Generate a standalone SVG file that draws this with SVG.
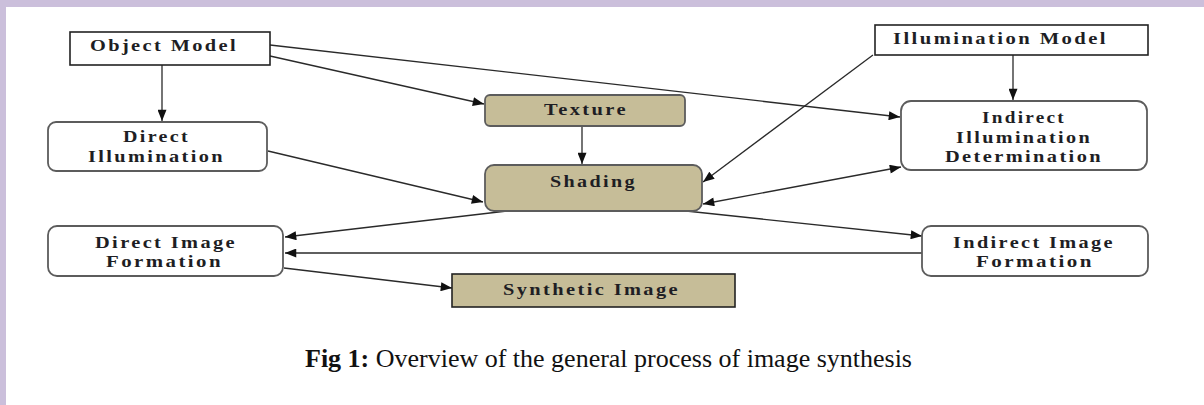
<svg xmlns="http://www.w3.org/2000/svg" width="1204" height="405" viewBox="0 0 1204 405">
  <style>
    .lbl { font-family: "Liberation Serif", "Times New Roman", serif; font-weight: bold; font-size: 17px; letter-spacing: 2px; fill: #1e1e24; text-anchor: start; }
    .cap { font-family: "Liberation Serif", "Times New Roman", serif; font-size: 26px; fill: #111; }
    .plain { fill: #ffffff; stroke: #222; stroke-width: 1.6; }
    .plain-tan { fill: #c6bd98; stroke: #222; stroke-width: 1.6; }
    .round { fill: #ffffff; stroke: #5c5c5c; stroke-width: 1.8; }
    .round-tan { fill: #c6bd98; stroke: #5c5c5c; stroke-width: 1.8; }
    .edge { fill: none; stroke: #2a2a2a; stroke-width: 1.3; }
  </style>
  <defs>
    <marker id="arrow" viewBox="0 0 10 8" refX="10" refY="4" markerWidth="12" markerHeight="9" markerUnits="userSpaceOnUse" orient="auto-start-reverse">
      <path d="M0,0 L10,4 L0,8 z" fill="#111"/>
    </marker>
  </defs>

  <!-- page background with lavender frame -->
  <rect x="0" y="0" width="1204" height="405" fill="#ffffff"/>
  <rect x="0" y="0" width="1204" height="7" fill="#cbbfdb"/>
  <rect x="0" y="0" width="6" height="405" fill="#cbbfdb"/>

  <!-- connectors -->
  <g id="connectors">
    <line class="edge" x1="270" y1="45" x2="900" y2="117" marker-end="url(#arrow)"/>
    <line class="edge" x1="270" y1="56" x2="484" y2="104" marker-end="url(#arrow)"/>
    <line class="edge" x1="162" y1="65" x2="162" y2="121" marker-end="url(#arrow)"/>
    <line class="edge" x1="1013" y1="55" x2="1013" y2="100" marker-end="url(#arrow)"/>
    <line class="edge" x1="873" y1="55" x2="703" y2="182" marker-end="url(#arrow)"/>
    <line class="edge" x1="582" y1="126" x2="582" y2="164" marker-end="url(#arrow)"/>
    <line class="edge" x1="268" y1="151" x2="483" y2="202" marker-end="url(#arrow)"/>
    <line class="edge" x1="703" y1="204" x2="901" y2="167" marker-start="url(#arrow)" marker-end="url(#arrow)"/>
    <line class="edge" x1="507" y1="211" x2="285" y2="237" marker-end="url(#arrow)"/>
    <line class="edge" x1="686" y1="211" x2="922" y2="236" marker-end="url(#arrow)"/>
    <line class="edge" x1="922" y1="253" x2="285" y2="253" marker-end="url(#arrow)"/>
    <line class="edge" x1="284" y1="268" x2="452" y2="288" marker-end="url(#arrow)"/>
  </g>

  <g id="object-model">
    <rect class="plain" x="70" y="32" width="200" height="33"/>
    <text class="lbl" x="90" y="51" textLength="148" lengthAdjust="spacingAndGlyphs">Object Model</text>
  </g>

  <g id="illumination-model">
    <rect class="plain" x="875" y="25" width="273" height="30"/>
    <text class="lbl" x="893" y="44" textLength="215" lengthAdjust="spacingAndGlyphs">Illumination Model</text>
  </g>

  <g id="texture">
    <rect class="round-tan" x="485" y="95" width="200" height="31" rx="5"/>
    <text class="lbl" x="544" y="115" textLength="84" lengthAdjust="spacingAndGlyphs">Texture</text>
  </g>

  <g id="direct-illumination">
    <rect class="round" x="48" y="122" width="219" height="49" rx="8"/>
    <text class="lbl" x="123" y="142" textLength="67" lengthAdjust="spacingAndGlyphs">Direct</text>
    <text class="lbl" x="88" y="162" textLength="137" lengthAdjust="spacingAndGlyphs">Illumination</text>
  </g>

  <g id="indirect-illumination-determination">
    <rect class="round" x="901" y="101" width="246" height="69" rx="10"/>
    <text class="lbl" x="982" y="123" textLength="84" lengthAdjust="spacingAndGlyphs">Indirect</text>
    <text class="lbl" x="956" y="143" textLength="136" lengthAdjust="spacingAndGlyphs">Illumination</text>
    <text class="lbl" x="945" y="162" textLength="158" lengthAdjust="spacingAndGlyphs">Determination</text>
  </g>

  <g id="shading">
    <rect class="round-tan" x="485" y="165" width="217" height="46" rx="9"/>
    <text class="lbl" x="550" y="187" textLength="87" lengthAdjust="spacingAndGlyphs">Shading</text>
  </g>

  <g id="direct-image-formation">
    <rect class="round" x="48" y="226" width="235" height="50" rx="9"/>
    <text class="lbl" x="95" y="248" textLength="142" lengthAdjust="spacingAndGlyphs">Direct Image</text>
    <text class="lbl" x="106" y="267" textLength="117" lengthAdjust="spacingAndGlyphs">Formation</text>
  </g>

  <g id="indirect-image-formation">
    <rect class="round" x="922" y="226" width="226" height="50" rx="9"/>
    <text class="lbl" x="953" y="248" textLength="162" lengthAdjust="spacingAndGlyphs">Indirect Image</text>
    <text class="lbl" x="976" y="267" textLength="118" lengthAdjust="spacingAndGlyphs">Formation</text>
  </g>

  <g id="synthetic-image">
    <rect class="plain-tan" x="452" y="274" width="283" height="33"/>
    <text class="lbl" x="503" y="295" textLength="177" lengthAdjust="spacingAndGlyphs">Synthetic Image</text>
  </g>

  <!-- figure caption -->
  <text class="cap" x="305" y="367" textLength="607" lengthAdjust="spacingAndGlyphs"><tspan font-weight="bold">Fig 1:</tspan> Overview of the general process of image synthesis</text>
</svg>
